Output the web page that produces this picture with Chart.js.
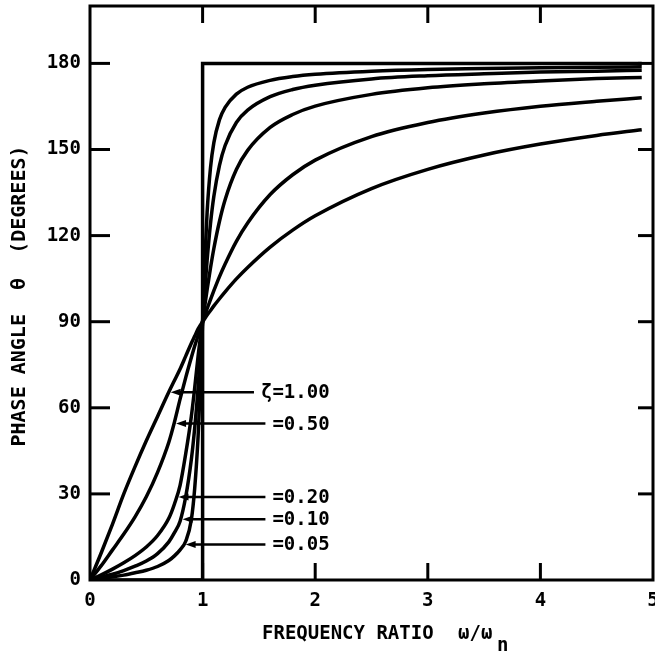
<!DOCTYPE html>
<html>
<head>
<meta charset="utf-8">
<title>Phase angle vs frequency ratio</title>
<script src="https://cdn.jsdelivr.net/npm/chart.js@4.4.1/dist/chart.umd.min.js"></script>
<style>
  html, body { margin: 0; padding: 0; background: #fff; }
</style>
</head>
<body>
<canvas id="phaseChart" width="655" height="653"></canvas>
<script>
/* ---------- data ---------- */
const ratio = [0, 0.1, 0.2, 0.3, 0.4, 0.5, 0.6, 0.7, 0.75, 0.8, 0.85, 0.9, 0.93, 0.96, 0.98, 1.0,
  1.02, 1.04, 1.07, 1.1, 1.15, 1.2, 1.3, 1.4, 1.6, 1.8, 2.0, 2.5, 3.0, 3.5, 4.0, 4.5, 4.9];

const phaseZeta100 = [0, 9.5, 19.5, 30, 39.5, 48.5, 57, 65.5, 69.5, 73.5, 78, 82.5, 85, 87.5, 88.8, 90,
  91.1, 92.3, 93.9, 95.5, 98, 100.4, 104.9, 108.9, 116, 121.9, 126.9, 136.4, 143.1, 148.1, 151.9, 154.9, 156.9];
const phaseZeta050 = [0, 5, 10.5, 16, 22, 29, 37.5, 48, 55, 63, 70.5, 77.5, 81.5, 85.2, 87.6, 90,
  92.3, 94.5, 97.7, 100.8, 105.7, 110.1, 118, 124.4, 134.3, 141.2, 146.3, 154.5, 159.4, 162.7, 165.1, 166.8, 168];
const phaseZeta020 = [0, 1.8, 3.8, 6, 8.5, 11.5, 15.5, 21.5, 26.5, 33, 44, 57, 67, 78, 84.3, 90,
  95.7, 101.1, 108.7, 115.5, 125, 132.5, 143, 149.7, 157.7, 162.2, 165.1, 169.2, 171.5, 172.9, 173.9, 174.7, 175.1];
const phaseZeta010 = [0, 1, 2, 3.3, 4.8, 6.6, 9.2, 13.3, 16.5, 20.5, 29, 42, 53, 67, 78.5, 90,
  101.2, 111.4, 124.1, 133.7, 144.5, 151.4, 159.4, 163.7, 168.4, 170.9, 172.4, 174.6, 175.7, 176.4, 177, 177.3, 177.6];
const phaseZeta005 = [0, 0.5, 1.1, 1.7, 2.5, 3.4, 4.7, 6.8, 8.4, 10.5, 13.5, 21, 32, 50, 68, 90,
  111.6, 128.1, 143.6, 152.4, 160.4, 164.7, 169.3, 171.7, 174.1, 175.4, 176.2, 177.3, 177.9, 178.2, 178.5, 178.7, 178.8];

// undamped case: a step at resonance
const stepRatio = [0, 1, 1, 4.9];
const stepPhase = [0, 0, 180, 180];

const ratioTicks = [0, 1, 2, 3, 4, 5];
const phaseTicks = [0, 30, 60, 90, 120, 150, 180];

// leader labels and the phase at which each leader points at its curve
const noteText = ["ζ=1.00", "=0.50", "=0.20", "=0.10", "=0.05"];
const notePhase = [65.4, 54.5, 28.9, 21.2, 12.4];

const curves = [phaseZeta100, phaseZeta050, phaseZeta020, phaseZeta010, phaseZeta005];

/* ---------- helpers ---------- */
const FONT = "'DejaVu Sans Mono', monospace";
const NOTE_AT = 1.62; // ratio where the "=" of each label sits

function ratioAtPhase(phases, target) {
  for (let i = 1; i < phases.length; i++) {
    if (phases[i] >= target) {
      const t = (target - phases[i - 1]) / (phases[i] - phases[i - 1]);
      return ratio[i - 1] + t * (ratio[i] - ratio[i - 1]);
    }
  }
  return ratio[ratio.length - 1];
}

function seg(ctx, x1, y1, x2, y2) {
  ctx.beginPath();
  ctx.moveTo(x1, y1);
  ctx.lineTo(x2, y2);
  ctx.stroke();
}

/* ---------- frame, inward ticks, leaders, titles ---------- */
const decorations = {
  id: "decorations",
  afterDatasetsDraw(chart) {
    const { ctx, chartArea: a, scales: { x, y } } = chart;
    ctx.save();
    ctx.strokeStyle = "#000";
    ctx.fillStyle = "#000";
    ctx.lineCap = "butt";

    // plot box
    ctx.lineWidth = 3;
    ctx.strokeRect(a.left, a.top, a.right - a.left, a.bottom - a.top);

    // ticks pointing into the plot
    ratioTicks.slice(1, -1).forEach(v => {
      const px = x.getPixelForValue(v);
      seg(ctx, px, a.top, px, a.top + 17);
      seg(ctx, px, a.bottom, px, a.bottom - 17);
    });
    phaseTicks.slice(1).forEach(v => {
      const py = y.getPixelForValue(v);
      seg(ctx, a.left, py, a.left + 20, py);
      seg(ctx, a.right, py, a.right - 15, py);
    });

    // leaders with arrowheads
    ctx.font = `bold 19px ${FONT}`;
    ctx.textBaseline = "middle";
    const eqX = x.getPixelForValue(NOTE_AT);
    const charW = ctx.measureText("0").width;
    noteText.forEach((txt, i) => {
      const py = y.getPixelForValue(notePhase[i]);
      const tip = x.getPixelForValue(ratioAtPhase(curves[i], notePhase[i])) + 2;
      const textX = txt.startsWith("ζ") ? eqX - charW : eqX;
      ctx.lineWidth = 2.5;
      seg(ctx, tip + 6, py, textX - 7, py);
      ctx.beginPath();
      ctx.moveTo(tip, py);
      ctx.lineTo(tip + 10, py - 3.5);
      ctx.lineTo(tip + 10, py + 3.5);
      ctx.closePath();
      ctx.fill();
      ctx.textAlign = "left";
      ctx.fillText(txt, textX, py + 1);
    });

    // axis titles
    ctx.font = `bold 19px ${FONT}`;
    ctx.textBaseline = "alphabetic";
    ctx.textAlign = "left";
    ctx.fillText("FREQUENCY RATIO", 262, 639);
    ctx.fillText("ω/ω", 458, 639);
    ctx.fillText("n", 497, 651);

    ctx.font = `bold 20px ${FONT}`;
    ctx.translate(25, 296);
    ctx.rotate(-Math.PI / 2);
    ctx.textAlign = "center";
    ctx.fillText("PHASE ANGLE  θ  (DEGREES)", 0, 0);
    ctx.restore();
  }
};

/* ---------- chart ---------- */
const lineStyle = { borderColor: "#000", borderWidth: 3.5, pointRadius: 0, fill: false };

const datasets = curves.map((phases, i) => ({
  label: noteText[i],
  data: ratio.map((r, j) => ({ x: r, y: phases[j] })),
  cubicInterpolationMode: "monotone",
  ...lineStyle
}));
datasets.push({
  label: "ζ=0",
  data: stepRatio.map((r, j) => ({ x: r, y: stepPhase[j] })),
  tension: 0,
  ...lineStyle
});

new Chart(document.getElementById("phaseChart"), {
  type: "line",
  data: { datasets },
  options: {
    responsive: false,
    animation: false,
    layout: { padding: { top: 6, right: 2, left: 0, bottom: 0 } },
    plugins: { legend: { display: false }, tooltip: { enabled: false } },
    scales: {
      x: {
        type: "linear",
        min: 0,
        max: 5,
        grid: { display: false, drawTicks: false },
        border: { display: false },
        ticks: { color: "#000", font: { family: FONT, size: 19, weight: "bold" }, padding: 10, maxRotation: 0, autoSkip: false },
        afterBuildTicks: s => { s.ticks = ratioTicks.map(v => ({ value: v })); },
        afterFit: s => { s.height = 73; s.paddingLeft = 0; s.paddingRight = 0; }
      },
      y: {
        min: 0,
        max: 200,
        grid: { display: false, drawTicks: false },
        border: { display: false },
        ticks: { color: "#000", font: { family: FONT, size: 19, weight: "bold" }, padding: 9, autoSkip: false },
        afterBuildTicks: s => { s.ticks = phaseTicks.map(v => ({ value: v })); },
        afterFit: s => { s.width = 90; s.paddingTop = 0; s.paddingBottom = 0; }
      }
    }
  },
  plugins: [decorations]
});
</script>
</body>
</html>
